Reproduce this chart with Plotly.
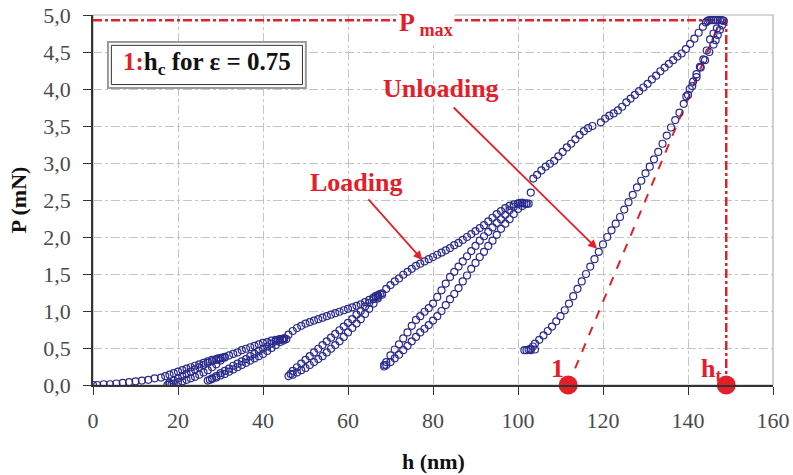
import plotly.graph_objects as go

# ---------------- data ----------------
# initial loading up to first peak
load1_h = [0, 1, 2.5, 4, 5.5, 7, 8.5, 10, 11.5, 13, 14.5, 16, 17, 18, 19, 20, 21, 22, 23, 24, 25, 26, 27, 28, 29, 30, 29.5, 30.5, 31]
load1_p = [0, 0, 0.01, 0.01, 0.02, 0.03, 0.04, 0.05, 0.06, 0.07, 0.09, 0.1, 0.12, 0.14, 0.16, 0.18, 0.2, 0.22, 0.24, 0.26, 0.28, 0.3, 0.32, 0.34, 0.35, 0.36, 0.36, 0.37, 0.37]
# cycle 1 unload / reload
cyc1_h = [30, 29, 28, 27, 26, 25, 24, 23, 22, 21, 20, 19, 18, 17.5, 18.5, 18, 19, 20, 21, 22, 23, 24, 25, 26, 27, 28, 29, 30, 31]
cyc1_p = [0.33, 0.28, 0.24, 0.2, 0.17, 0.14, 0.11, 0.09, 0.07, 0.05, 0.04, 0.02, 0.01, 0.0, 0.01, 0.03, 0.06, 0.09, 0.12, 0.15, 0.18, 0.21, 0.24, 0.27, 0.3, 0.32, 0.34, 0.36, 0.38]
# loading to second peak
load2_h = [32, 33, 34, 35, 36, 37, 38, 39, 40, 41, 42, 43, 44, 44.5, 45, 45.5, 44.8, 43.5]
load2_p = [0.4, 0.42, 0.44, 0.47, 0.49, 0.51, 0.53, 0.55, 0.57, 0.58, 0.6, 0.61, 0.62, 0.62, 0.63, 0.62, 0.6, 0.6]
# cycle 2 unload / reload
cyc2_h = [44, 43, 42, 41, 40, 39, 38, 37, 36, 35, 34, 33, 32, 31, 30, 29, 28, 27, 27.5, 28, 29, 30, 31, 32, 33, 34, 35, 36, 37, 38, 39, 40, 41, 42, 43, 44, 45]
cyc2_p = [0.58, 0.54, 0.5, 0.46, 0.42, 0.39, 0.36, 0.33, 0.3, 0.27, 0.24, 0.21, 0.18, 0.15, 0.13, 0.1, 0.08, 0.06, 0.07, 0.09, 0.12, 0.16, 0.19, 0.22, 0.26, 0.29, 0.32, 0.35, 0.39, 0.42, 0.46, 0.49, 0.52, 0.56, 0.59, 0.62, 0.63]
# loading to third peak
load3_h = [46, 47, 48, 49, 50, 51, 52, 53, 54, 55, 56, 57, 58, 59, 60, 61, 62, 63, 64, 65, 66, 67, 68, 67.5, 66.5, 67]
load3_p = [0.68, 0.73, 0.77, 0.8, 0.83, 0.85, 0.87, 0.89, 0.91, 0.93, 0.95, 0.97, 0.99, 1.01, 1.03, 1.05, 1.07, 1.09, 1.12, 1.15, 1.18, 1.21, 1.22, 1.23, 1.2, 1.19]
# cycle 3 unload / reload
cyc3_h = [67, 66, 65, 64, 63, 62, 61, 60, 59, 58, 57, 56, 55, 54, 53, 52, 51, 50, 49, 48, 47, 46, 46.5, 47, 48, 49, 50, 51, 52, 53, 54, 55, 56, 57, 58, 59, 60, 61, 62, 63, 64, 65, 66, 67, 68]
cyc3_p = [1.17, 1.1, 1.03, 0.96, 0.89, 0.83, 0.77, 0.71, 0.65, 0.59, 0.54, 0.49, 0.44, 0.39, 0.35, 0.31, 0.27, 0.23, 0.2, 0.17, 0.14, 0.12, 0.15, 0.19, 0.24, 0.29, 0.34, 0.39, 0.44, 0.49, 0.54, 0.59, 0.64, 0.69, 0.74, 0.79, 0.84, 0.89, 0.95, 1.0, 1.06, 1.11, 1.16, 1.21, 1.24]
# loading to fourth peak
load4_h = [69, 70, 71, 72, 73, 74, 75, 76, 77, 78, 79, 80, 81, 82, 83, 84, 85, 86, 87, 88, 89, 90, 91, 92, 93, 94, 95, 96, 97, 98, 99, 100, 100.5, 101, 101.5, 102, 102.5]
load4_p = [1.3, 1.35, 1.4, 1.44, 1.49, 1.53, 1.57, 1.61, 1.64, 1.67, 1.7, 1.73, 1.76, 1.79, 1.82, 1.85, 1.89, 1.92, 1.96, 2.0, 2.04, 2.08, 2.12, 2.16, 2.21, 2.26, 2.31, 2.35, 2.39, 2.42, 2.44, 2.45, 2.46, 2.46, 2.45, 2.45, 2.45]
# cycle 4 unload / reload
cyc4_h = [102, 101, 100, 99, 98, 97, 96, 95, 94, 93, 92, 91, 90, 89, 88, 87, 86, 85, 84, 83, 82, 81, 80, 79, 78, 77, 76, 75, 74, 73, 72, 71, 70, 69, 68.5,
          68.5, 69, 70, 71, 72, 73, 74, 75, 76, 77, 78, 79, 80, 81, 82, 83, 84, 85, 86, 87, 88, 89, 90, 91, 92, 93, 94, 95, 96, 97, 98, 99, 100, 101]
cyc4_p = [2.45, 2.42, 2.38, 2.31, 2.24, 2.18, 2.11, 2.03, 1.95, 1.88, 1.8, 1.73, 1.65, 1.57, 1.48, 1.4, 1.31, 1.23, 1.16, 1.08, 1.0, 0.93, 0.87, 0.81, 0.76, 0.71, 0.65, 0.59, 0.53, 0.47, 0.41, 0.36, 0.31, 0.27, 0.25,
          0.27, 0.31, 0.4, 0.48, 0.55, 0.63, 0.71, 0.8, 0.88, 0.93, 0.99, 1.04, 1.1, 1.19, 1.28, 1.37, 1.46, 1.53, 1.6, 1.67, 1.74, 1.81, 1.88, 1.95, 2.01, 2.07, 2.13, 2.19, 2.24, 2.3, 2.36, 2.41, 2.45, 2.46]
# loading to Pmax and hold
load5_h = [103, 103.6, 104.5, 105.5, 106.5, 107.5, 108.5, 109.5, 110.5, 111.5, 112.5, 113.5, 114.5, 115.5, 116.5, 117.5, 119.5, 120.5, 121.5, 122.5, 123.5, 124.5, 125.5, 126.5, 127.5, 128.5, 129.5, 130.5, 131.5, 132.5, 133.5, 134.5, 135.5, 136.5, 137.5, 138.5, 139.5, 140.5, 141.5, 142.5, 143.5, 144.2,
           144.6, 145, 145.5, 146, 146.5, 147, 147.5, 148, 148.4]
load5_p = [2.6, 2.79, 2.84, 2.9, 2.95, 2.99, 3.03, 3.09, 3.15, 3.21, 3.26, 3.32, 3.38, 3.43, 3.47, 3.5, 3.55, 3.6, 3.64, 3.67, 3.71, 3.76, 3.82, 3.87, 3.92, 3.97, 4.02, 4.07, 4.13, 4.18, 4.24, 4.29, 4.34, 4.39, 4.44, 4.48, 4.54, 4.61, 4.68, 4.76, 4.84, 4.9,
           4.92, 4.93, 4.93, 4.93, 4.93, 4.93, 4.93, 4.93, 4.92]
# final unloading (main branch)
unload_h = [148, 147.5, 147, 146.5, 146, 145, 144, 143, 142, 141, 140, 139, 138, 137, 136, 135, 134, 133, 132, 131, 130, 129, 128, 127, 126, 125, 124, 123, 122, 121, 120, 119, 118, 117, 116, 115, 114, 113, 112, 111, 110, 109, 108, 107, 106, 105, 104, 103.5, 103, 102.5, 102, 101.5, 103, 104]
unload_p = [4.86, 4.8, 4.73, 4.66, 4.6, 4.5, 4.39, 4.29, 4.16, 4.04, 3.92, 3.8, 3.68, 3.58, 3.48, 3.37, 3.26, 3.15, 3.05, 2.95, 2.86, 2.76, 2.67, 2.57, 2.47, 2.37, 2.27, 2.18, 2.09, 2.0, 1.9, 1.8, 1.7, 1.6, 1.5, 1.4, 1.3, 1.2, 1.1, 1.01, 0.93, 0.86, 0.79, 0.73, 0.67, 0.61, 0.56, 0.52, 0.49, 0.48, 0.47, 0.47, 0.47, 0.48]
# final unloading (second, sparser branch near the top)
unload2_h = [146.8, 146, 145.2, 144.4, 143.6, 142.8, 142, 141.2, 140.4, 139.6]
unload2_p = [4.82, 4.75, 4.67, 4.52, 4.4, 4.3, 4.2, 4.1, 4.0, 3.9]

# construction values
p_max = 4.93
h_t = 149.0
h_c = 111.8
h_tan_top = 147.7

x_ticks = [0, 20, 40, 60, 80, 100, 120, 140, 160]
y_ticks = [0, 0.5, 1.0, 1.5, 2.0, 2.5, 3.0, 3.5, 4.0, 4.5, 5.0]
y_tick_text = ["0,0", "0,5", "1,0", "1,5", "2,0", "2,5", "3,0", "3,5", "4,0", "4,5", "5,0"]

# ---------------- figure ----------------
RED = "#e3202a"
NAVY = "#2a2a8c"
SERIF = "Liberation Serif, Times New Roman, DejaVu Serif, serif"

fig = go.Figure()

# construction lines
fig.add_trace(go.Scatter(x=[0, h_t, h_t], y=[p_max, p_max, 0], mode="lines",
                         line=dict(color=RED, width=2.5, dash="dashdot"), hoverinfo="skip", showlegend=False))
fig.add_trace(go.Scatter(x=[h_c, h_tan_top], y=[0, p_max], mode="lines",
                         line=dict(color=RED, width=2, dash="dash"), hoverinfo="skip", showlegend=False))

all_h = load1_h + cyc1_h + load2_h + cyc2_h + load3_h + cyc3_h + load4_h + cyc4_h + load5_h + unload_h + unload2_h
all_p = load1_p + cyc1_p + load2_p + cyc2_p + load3_p + cyc3_p + load4_p + cyc4_p + load5_p + unload_p + unload2_p
fig.add_trace(go.Scatter(x=all_h, y=all_p, mode="markers",
                         marker=dict(symbol="circle-open", size=7, color=NAVY, line=dict(width=1.2, color=NAVY)),
                         showlegend=False))

fig.add_trace(go.Scatter(x=[h_c, h_t], y=[0, 0], mode="markers",
                         marker=dict(symbol="circle", size=19, color=RED), cliponaxis=False, showlegend=False))

axis_common = dict(showgrid=True, gridcolor="#c4c4c4", griddash="dashdot", gridwidth=1,
                   zeroline=False, showline=True, linecolor="#333333", linewidth=1.5,
                   ticks="outside", ticklen=8, tickcolor="#333333", automargin=False,
                   ticklabeloverflow="allow",
                   tickfont=dict(family=SERIF, size=22, color="#4a4a4a"))

fig.update_xaxes(range=[0, 160], tickvals=x_ticks, ticklabelstandoff=7, **axis_common)
fig.update_yaxes(range=[0, 5], tickvals=y_ticks, ticktext=y_tick_text, ticklabelstandoff=8, **axis_common)

shapes = [
    # gray frame (top/right)
    dict(type="rect", xref="paper", yref="paper", x0=0, x1=1, y0=0, y1=1,
         line=dict(color="#b0b0b0", width=1.2), layer="below"),
    # framed label box
    dict(type="rect", xref="paper", yref="paper", x0=0.022, x1=0.313, y0=0.803, y1=0.927,
         line=dict(color="#9a9a9a", width=2), fillcolor="white", layer="above"),
    dict(type="rect", xref="paper", yref="paper", x0=0.027, x1=0.308, y0=0.812, y1=0.918,
         line=dict(color="#333333", width=1), layer="above"),
]

big = dict(family=SERIF, size=26, color=RED)
annotations = [
    dict(xref="paper", yref="paper", x=0.1675, y=0.868, xanchor="center", yanchor="middle", showarrow=False,
         text="<b><span style='color:%s'>1:</span>h<sub>c</sub> for ε = 0.75</b>" % RED,
         font=dict(family=SERIF, size=25, color="#111111")),
    dict(x=71.6, y=4.88, xanchor="left", yanchor="middle", showarrow=False, text="<b>P<sub> max</sub></b>",
         bgcolor="white", font=dict(family=SERIF, size=26, color=RED), borderpad=1),
    dict(x=61.9, y=2.74, xanchor="center", yanchor="middle", showarrow=False, text="<b>Loading</b>", font=big),
    dict(x=81.9, y=4.01, xanchor="center", yanchor="middle", showarrow=False, text="<b>Unloading</b>", font=big),
    dict(x=77.5, y=1.69, ax=64.5, ay=2.53, axref="x", ayref="y", xref="x", yref="y",
         showarrow=True, arrowhead=2, arrowsize=1, arrowwidth=1.8, arrowcolor=RED, text=""),
    dict(x=118.6, y=1.84, ax=84.5, ay=3.77, axref="x", ayref="y", xref="x", yref="y",
         showarrow=True, arrowhead=2, arrowsize=1, arrowwidth=1.8, arrowcolor=RED, text=""),
    dict(x=109.4, y=0.22, xanchor="center", yanchor="middle", showarrow=False, text="<b>1</b>", font=big),
    dict(x=142.6, y=0.2, xanchor="left", yanchor="middle", showarrow=False, text="<b>h<sub>t</sub></b>", font=big),
    # axis titles
    dict(xref="paper", yref="paper", x=0.5, y=-0.208, xanchor="center", yanchor="middle", showarrow=False,
         text="<b>h (nm)</b>", font=dict(family=SERIF, size=22, color="#111111")),
    dict(xref="paper", yref="paper", x=-0.11, y=0.5, xanchor="center", yanchor="middle", showarrow=False,
         text="<b>P (mN)</b>", textangle=-90, font=dict(family=SERIF, size=22, color="#111111")),
]

fig.update_layout(width=793, height=475, margin=dict(l=93, r=20, t=15, b=90),
                  plot_bgcolor="white", paper_bgcolor="white",
                  shapes=shapes, annotations=annotations, showlegend=False)

# remove the default 8 px page margin so the 793x475 figure fills the window exactly
fig.write_html("out.html", config={"displayModeBar": False},
               post_script="document.body.style.margin='0';document.body.style.overflow='hidden';")
